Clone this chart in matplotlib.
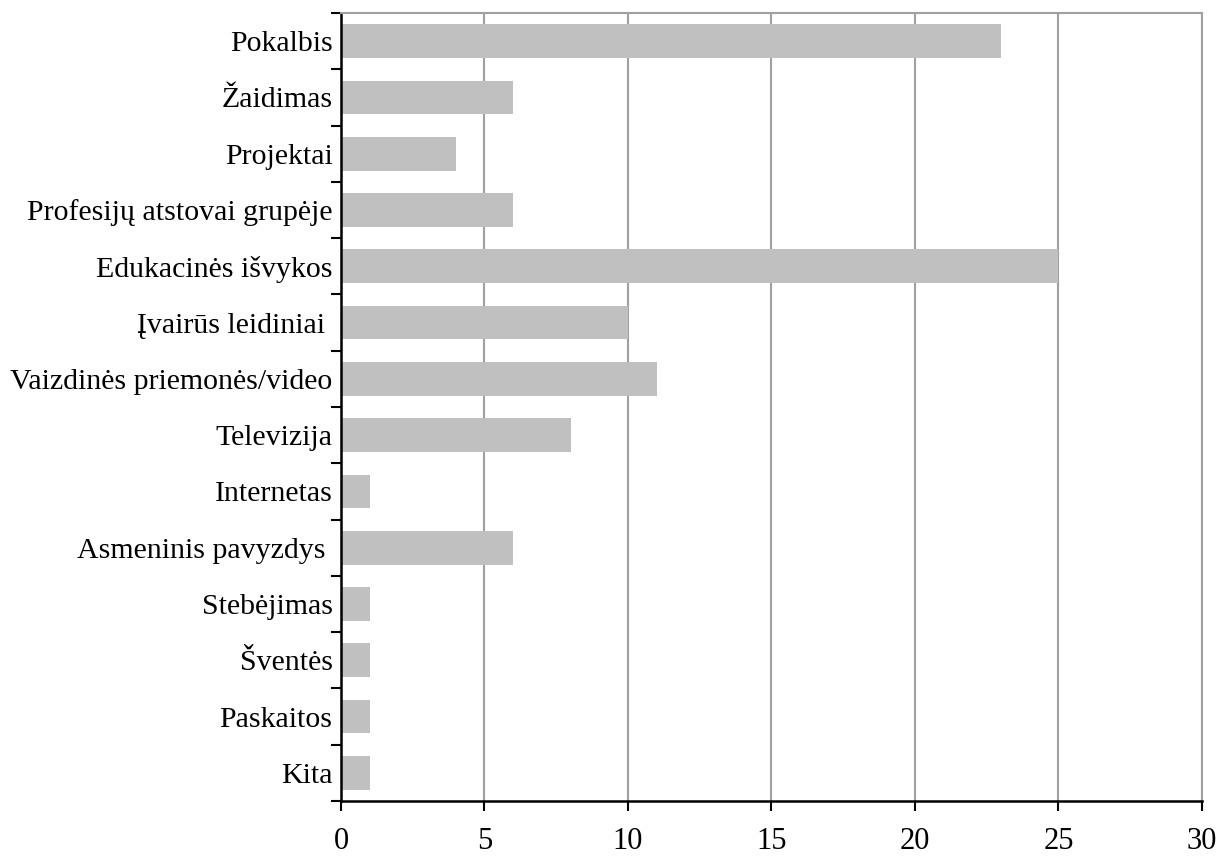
import numpy as np
import matplotlib
matplotlib.use("Agg")
from matplotlib import pyplot as plt
from matplotlib.ticker import FixedLocator

# Data, top to bottom as shown
categories = ["Pokalbis", "Žaidimas", "Projektai", "Profesijų atstovai grupėje",
              "Edukacinės išvykos", "Įvairūs leidiniai ", "Vaizdinės priemonės/video",
              "Televizija", "Internetas", "Asmeninis pavyzdys ", "Stebėjimas",
              "Šventės", "Paskaitos", "Kita"]
values = [23, 6, 4, 6, 25, 10, 11, 8, 1, 6, 1, 1, 1, 1]
x_ticks = [0, 5, 10, 15, 20, 25, 30]

plt.rcParams['font.family'] = ['Liberation Serif', 'DejaVu Serif']

fig = plt.figure(figsize=(12.19, 8.59), dpi=100)
ax = fig.add_axes([0.2797, 0.0675, 0.986 - 0.2797, 0.9849 - 0.0675])

n = len(categories)
ypos = np.arange(n)
ax.barh(ypos, values, height=0.6, color="#C0C0C0", zorder=2)

ax.set_xlim(0, 30)
ax.set_ylim(n - 0.5, -0.5)

# vertical gridlines
ax.set_xticks(x_ticks)
ax.set_xticklabels([str(t) for t in x_ticks], fontsize=22)
ax.xaxis.grid(True, color="#A0A0A0", linewidth=1.5, zorder=1)
ax.tick_params(axis="x", direction="out", length=7, width=1.5, pad=12, color="black")

# category labels centred on bars, tick marks at boundaries
ax.set_yticks(ypos)
ax.set_yticklabels(categories, fontsize=21.5)
ax.tick_params(axis="y", which="major", length=0, pad=6)
ax.yaxis.set_minor_locator(FixedLocator(np.arange(-0.5, n, 1.0)))
ax.tick_params(axis="y", which="minor", direction="out", length=7, width=1.5, color="black")

ax.spines["left"].set_color("black")
ax.spines["left"].set_linewidth(1.8)
ax.spines["bottom"].set_color("black")
ax.spines["bottom"].set_linewidth(1.8)
ax.spines["top"].set_color("#A0A0A0")
ax.spines["top"].set_linewidth(1.5)
ax.spines["right"].set_color("#A0A0A0")
ax.spines["right"].set_linewidth(1.5)

fig.savefig("out.png", dpi=100)
